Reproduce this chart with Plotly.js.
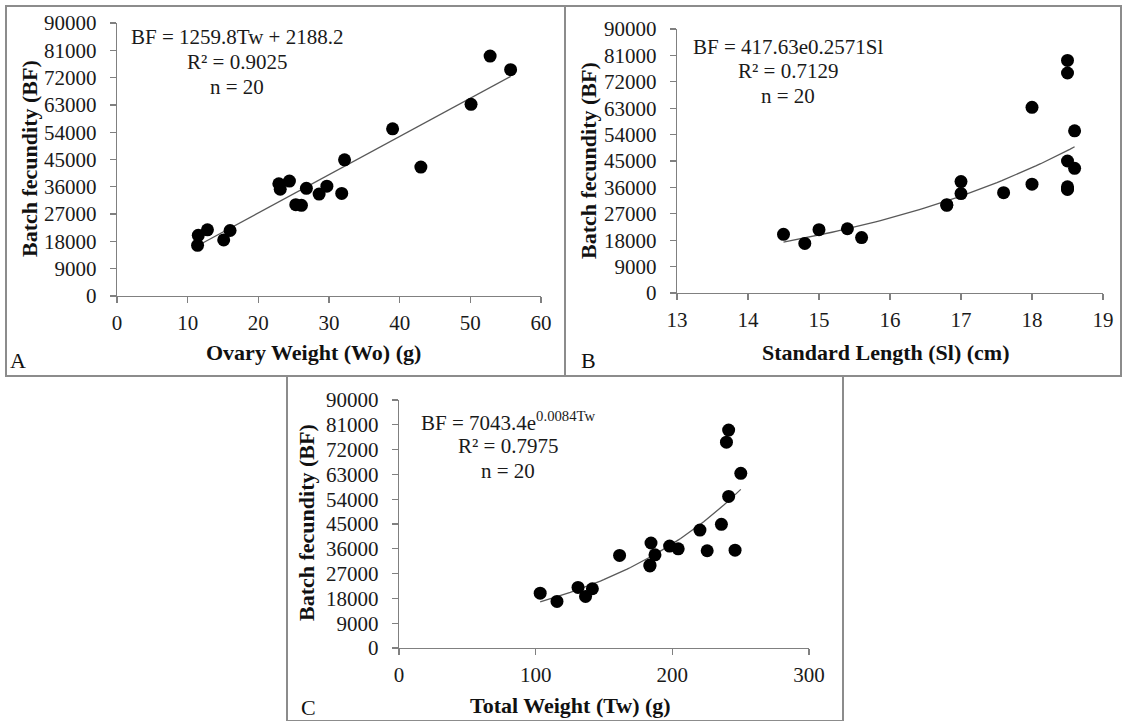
<!DOCTYPE html>
<html>
<head>
<meta charset="utf-8">
<script src="https://cdn.plot.ly/plotly-3.0.1.min.js"></script>
<style>
html,body{margin:0;padding:0;background:#fff;}
#chart{width:1124px;height:721px;}
</style>
</head>
<body>
<div id="chart"></div>
<script>
// ---- Data ----
// Panel A: Ovary weight (g) vs batch fecundity
const ovaryWeight = [11.4, 11.5, 12.8, 15.1, 16.0, 22.9, 23.1, 24.4, 25.3, 26.1, 26.8, 28.6, 29.7, 31.8, 32.2, 39.0, 43.0, 50.1, 52.8, 55.7];
const fecundityA  = [16700, 20000, 21800, 18500, 21600, 37000, 35200, 37900, 30100, 29900, 35500, 33600, 36200, 33800, 44900, 55100, 42500, 63200, 79100, 74600];
// Panel B: Standard length (cm) vs batch fecundity
const standardLength = [14.5, 14.8, 15.0, 15.4, 15.6, 16.8, 16.8, 17.0, 17.0, 17.6, 18.0, 18.0, 18.5, 18.5, 18.5, 18.5, 18.5, 18.5, 18.6, 18.6];
const fecundityB     = [20000, 16900, 21600, 21900, 18900, 30100, 29900, 38000, 33900, 34200, 37100, 63300, 79300, 75000, 45000, 36200, 35300, 35500, 55300, 42500];
// Panel C: Total weight (g) vs batch fecundity
const totalWeight = [103.3, 115.6, 131.0, 136.5, 141.5, 161.4, 183.6, 183.6, 184.4, 187.3, 198.0, 204.3, 220.2, 225.5, 235.9, 239.6, 241.2, 241.2, 245.9, 250.1];
const fecundityC  = [19900, 16900, 22000, 18700, 21500, 33600, 29800, 30100, 38100, 33800, 37000, 36000, 42800, 35300, 44900, 74700, 79100, 55000, 35500, 63400];

// Trend-line equations printed on the chart
const fitA = {slope: 1259.8, intercept: 2188.2};
const fitB = {a: 417.63, b: 0.2571};
const fitC = {a: 7043.4, b: 0.0084};

// Tick values
const yTicks = [0, 9000, 18000, 27000, 36000, 45000, 54000, 63000, 72000, 81000, 90000];
const xTicksA = [0, 10, 20, 30, 40, 50, 60];
const xTicksB = [13, 14, 15, 16, 17, 18, 19];
const xTicksC = [0, 100, 200, 300];

// Text
const eqA = ["BF = 1259.8Tw + 2188.2", "R² = 0.9025", "n = 20"];
const eqB = ["BF = 417.63e0.2571Sl", "R² = 0.7129", "n = 20"];
const eqC = ["BF = 7043.4e<sup>0.0084Tw</sup>", "R² = 0.7975", "n = 20"];
const yTitle = "Batch fecundity (BF)";
const xTitleA = "Ovary Weight (Wo) (g)";
const xTitleB = "Standard Length (Sl) (cm)";
const xTitleC = "Total Weight (Tw) (g)";
const panelLabels = ["A", "B", "C"];

// ---- helpers ----
const W = 1124, H = 721;
const px = x => x / W;
const py = y => 1 - y / H;

function curve(xs, f) {
  const lo = Math.min(...xs), hi = Math.max(...xs);
  const n = 60, X = [], Y = [];
  for (let i = 0; i <= n; i++) { const x = lo + (hi - lo) * i / n; X.push(x); Y.push(f(x)); }
  return {X, Y};
}
const cA = curve(ovaryWeight, x => fitA.slope * x + fitA.intercept);
const cB = curve(standardLength, x => fitB.a * Math.exp(fitB.b * x));
const cC = curve(totalWeight, x => fitC.a * Math.exp(fitC.b * x));

const SERIF = "Liberation Serif, Times New Roman, serif";
const lineCol = '#595959';
const markerStyle = {color: '#000', size: 13};

const traces = [
  {x: cA.X, y: cA.Y, xaxis: 'x', yaxis: 'y', mode: 'lines', line: {color: lineCol, width: 1.3}, hoverinfo: 'skip'},
  {x: ovaryWeight, y: fecundityA, xaxis: 'x', yaxis: 'y', mode: 'markers', marker: markerStyle},
  {x: cB.X, y: cB.Y, xaxis: 'x2', yaxis: 'y2', mode: 'lines', line: {color: lineCol, width: 1.3}, hoverinfo: 'skip'},
  {x: standardLength, y: fecundityB, xaxis: 'x2', yaxis: 'y2', mode: 'markers', marker: markerStyle},
  {x: cC.X, y: cC.Y, xaxis: 'x3', yaxis: 'y3', mode: 'lines', line: {color: lineCol, width: 1.3}, hoverinfo: 'skip'},
  {x: totalWeight, y: fecundityC, xaxis: 'x3', yaxis: 'y3', mode: 'markers', marker: markerStyle}
];

const axCol = '#808080';
const tickFont = {family: SERIF, size: 21, color: '#1a1a1a'};
function xAx(domain, range, ticks, anchor) {
  return {domain, range, tickvals: ticks, ticktext: ticks.map(String), anchor,
    showgrid: false, zeroline: false, showline: true, linecolor: axCol, linewidth: 1.3,
    ticks: 'outside', ticklen: 6, tickcolor: axCol, tickwidth: 1.3, tickfont: tickFont,
    ticklabelstandoff: 1, fixedrange: true};
}
function yAx(domain, anchor) {
  return {domain, range: [0, 90000], tickvals: yTicks, ticktext: yTicks.map(String), anchor,
    showgrid: false, zeroline: false, showline: true, linecolor: axCol, linewidth: 1.3,
    ticks: 'outside', ticklen: 6, tickcolor: axCol, tickwidth: 1.3, tickfont: tickFont,
    ticklabelstandoff: 9, fixedrange: true};
}

// axes pixel boxes
const boxA = {l: 117, r: 541, t: 23, b: 296};
const boxB = {l: 677, r: 1103, t: 29, b: 293};
const boxC = {l: 399, r: 809, t: 400, b: 648};

const textFont = {family: SERIF, size: 21, color: '#1a1a1a'};
const titleFont = {family: SERIF, size: 22, color: '#111', weight: 'bold'};
const annotations = [];
function addLines(lines, cx, ys) {
  lines.forEach((t, i) => annotations.push({text: t, xref: 'paper', yref: 'paper', x: px(cx), y: py(ys[i]),
    xanchor: 'center', yanchor: 'middle', showarrow: false, font: textFont}));
}
addLines(eqA, 237, [37, 62, 87]);
addLines(eqB, 788, [47, 71, 96]);
addLines(eqC, 508, [421, 446, 471]);

function addText(t, x, y, font, angle) {
  annotations.push({text: t, xref: 'paper', yref: 'paper', x: px(x), y: py(y), xanchor: 'center', yanchor: 'middle',
    showarrow: false, font, textangle: angle || 0});
}
const boldT = t => '<b>' + t + '</b>';
addText(boldT(yTitle), 29, 159, titleFont, -90);
addText(boldT(yTitle), 588, 161, titleFont, -90);
addText(boldT(yTitle), 306, 523, titleFont, -90);
addText(boldT(xTitleA), 313, 352, titleFont);
addText(boldT(xTitleB), 886, 352, titleFont);
addText(boldT(xTitleC), 570, 705, titleFont);
const lblFont = {family: SERIF, size: 22, color: '#111'};
addText(panelLabels[0], 18, 360, lblFont);
addText(panelLabels[1], 588, 360, lblFont);
addText(panelLabels[2], 308, 707, lblFont);

const borderCol = '#8c8c8c';
const shapes = [
  {type: 'rect', xref: 'paper', yref: 'paper', x0: px(6), x1: px(565), y0: py(376), y1: py(6), line: {color: borderCol, width: 2}},
  {type: 'rect', xref: 'paper', yref: 'paper', x0: px(565), x1: px(1121), y0: py(376), y1: py(6), line: {color: borderCol, width: 2}},
  {type: 'rect', xref: 'paper', yref: 'paper', x0: px(287), x1: px(843), y0: py(721), y1: py(376), line: {color: borderCol, width: 2}}
];

const layout = {
  width: W, height: H,
  margin: {l: 0, r: 0, t: 0, b: 0, pad: 0},
  paper_bgcolor: '#fff', plot_bgcolor: 'rgba(0,0,0,0)',
  showlegend: false,
  font: {family: SERIF},
  xaxis: xAx([px(boxA.l), px(boxA.r)], [0, 60], xTicksA, 'y'),
  yaxis: yAx([py(boxA.b), py(boxA.t)], 'x'),
  xaxis2: xAx([px(boxB.l), px(boxB.r)], [13, 19], xTicksB, 'y2'),
  yaxis2: yAx([py(boxB.b), py(boxB.t)], 'x2'),
  xaxis3: xAx([px(boxC.l), px(boxC.r)], [0, 300], xTicksC, 'y3'),
  yaxis3: yAx([py(boxC.b), py(boxC.t)], 'x3'),
  annotations, shapes
};

Plotly.newPlot('chart', traces, layout, {staticPlot: true, displayModeBar: false});
</script>
</body>
</html>
